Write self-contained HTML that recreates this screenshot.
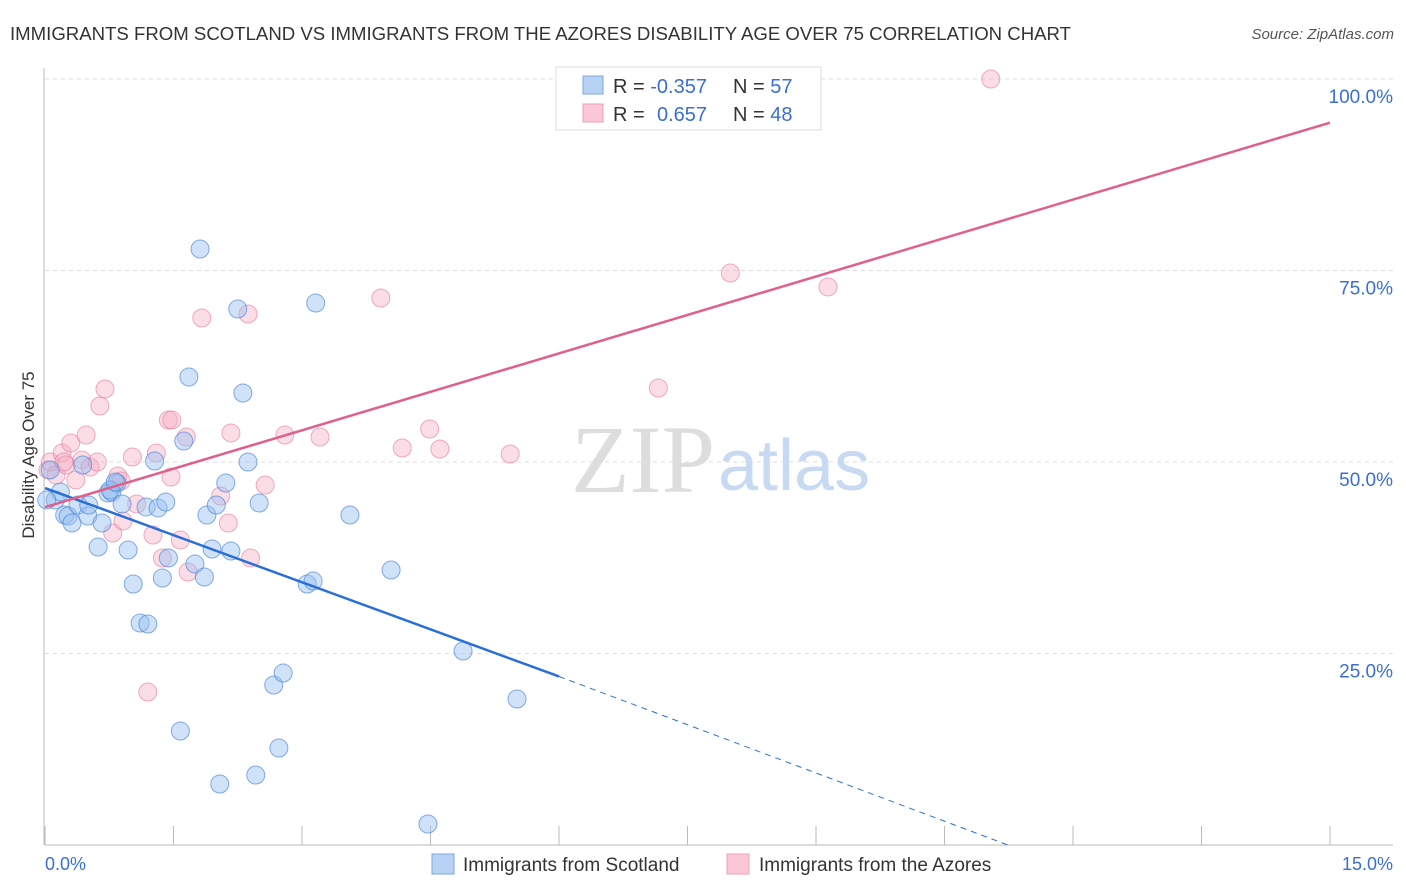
<!DOCTYPE html>
<html><head><meta charset="utf-8"><style>
body{margin:0;background:#fff;font-family:"Liberation Sans",sans-serif}
svg{display:block}
</style></head><body>
<svg id="chart" width="1406" height="892">
<text x="10" y="40" font-size="18" fill="#333" textLength="1061" lengthAdjust="spacingAndGlyphs">IMMIGRANTS FROM SCOTLAND VS IMMIGRANTS FROM THE AZORES DISABILITY AGE OVER 75 CORRELATION CHART</text>
<text x="1394" y="39" font-size="15" fill="#555" text-anchor="end" font-style="italic">Source: ZipAtlas.com</text>
<text transform="translate(34,455) rotate(-90)" font-size="17" fill="#333" text-anchor="middle">Disability Age Over 75</text>
<g id="grid"></g>
<text x="715" y="492" font-size="96" font-family="Liberation Serif,serif" fill="#ddd" text-anchor="end">ZIP</text>
<text x="718" y="490" font-size="72" fill="#c8daf2">atlas</text>
<g id="marks"></g>
<g id="legend">
<rect x="556" y="67" width="265" height="63" fill="#fff" stroke="#ddd"/>
<rect x="583" y="76" width="20" height="18" fill="#b8d2f4" stroke="#7aa6e0"/>
<rect x="583" y="104" width="20" height="18" fill="#fbc7d6" stroke="#eda0b7"/>
<text x="613" y="93" font-size="20" fill="#333">R = <tspan fill="#3a6fd0">-0.357</tspan><tspan x="733">N = </tspan><tspan fill="#3a6fd0">57</tspan></text>
<text x="613" y="121" font-size="20" fill="#333">R = <tspan x="657" fill="#3a6fd0">0.657</tspan><tspan x="733">N = </tspan><tspan fill="#3a6fd0">48</tspan></text>
</g>
<g>
<rect x="432" y="854" width="22" height="20" fill="#b8d2f4" stroke="#7aa6e0"/>
<text x="463" y="871" font-size="19" fill="#333">Immigrants from Scotland</text>
<rect x="727" y="854" width="22" height="20" fill="#fbc7d6" stroke="#eda0b7"/>
<text x="759" y="871" font-size="19" fill="#333">Immigrants from the Azores</text>
</g>
</svg>
<script>
const xTicks=[0,1.5,3,4.5,6,7.5,9,10.5,12,13.5,15];
const yTicks=[25,50,75,100];
const yTickLabels=["25.0%","50.0%","75.0%","100.0%"];
const xEndLabels=["0.0%","15.0%"];
const scotX=[0.06,0.12,0.18,0.23,0.27,0.315,0.385,0.44,0.5,0.51,0.62,0.665,0.735,0.78,0.84,0.9,0.97,1.03,1.11,1.2,1.18,1.28,1.32,1.37,1.41,1.44,1.58,1.62,1.68,1.75,1.81,1.86,1.89,1.95,2.0,2.04,2.11,2.17,2.25,2.31,2.37,2.46,2.5,2.67,2.73,2.78,3.06,3.13,3.16,3.56,4.04,4.47,4.88,5.51,0.02,0.76,0.82];
const scotY=[48.96,45.04,46.08,43.08,42.95,42.04,44.39,49.61,42.95,44.39,38.9,42.04,45.95,46.08,47.26,44.52,38.51,34.07,28.98,28.85,44.13,50.13,44,34.86,44.78,37.47,14.88,52.74,61.1,36.68,77.81,34.99,43.08,38.64,44.39,7.96,47.26,38.38,69.97,59.01,50,9.14,44.65,20.89,12.66,22.45,34.07,34.46,70.76,43.08,35.9,2.74,25.33,19.06,45.04,46.34,47.39];
const azoX=[0.035,0.06,0.13,0.2,0.245,0.3,0.36,0.43,0.48,0.525,0.61,0.64,0.7,0.79,0.85,0.89,0.91,1.02,1.07,1.26,1.3,1.37,1.44,1.48,1.47,1.58,1.65,1.67,1.83,2.05,2.14,2.17,2.37,2.4,2.57,2.8,3.21,3.92,4.17,4.49,4.61,5.43,7.16,8,9.14,11.04,1.2,0.22];
const azoY=[48.96,50,48.3,51.17,49.61,52.48,47.65,50.26,53.52,49.35,50,57.31,59.53,40.73,48.17,47.52,42.3,50.65,44.52,40.47,51.17,37.47,55.48,55.48,48.04,39.82,53.26,35.64,68.8,45.56,42.04,53.79,69.32,37.47,47,53.52,53.26,71.41,51.83,54.31,51.7,51.04,59.66,74.67,72.85,100,19.97,50];
const scotTrendX=[0,6,11.24];
const scotTrendY=[46.6,22.0,0];
const azoTrendX=[0,15];
const azoTrendY=[44.1,94.3];

const NS="http://www.w3.org/2000/svg";
const X=v=>45+v*(1285/15);
const Y=v=>845-v*7.66;
function mk(t,a,p){const e=document.createElementNS(NS,t);for(const k in a)e.setAttribute(k,a[k]);p.appendChild(e);return e;}
const grid=document.getElementById('grid'),marks=document.getElementById('marks');
yTicks.forEach((t,i)=>{
 const l=mk('line',{x1:45,x2:1393,y1:Y(t),y2:Y(t),stroke:'#ddd','stroke-dasharray':'4,4'},grid);
 
 
 const tx=mk('text',{x:1393,y:Y(t)+24,'font-size':19,fill:'#3a6fd0','text-anchor':'end'},grid);
 tx.textContent=yTickLabels[i];
 
 
});
const ax=mk('line',{x1:45,x2:1393,y1:845,y2:845,stroke:'#bbb'},grid);


const ay=mk('line',{x1:44,x2:44,y1:68,y2:845,stroke:'#bbb'},grid);


xTicks.forEach(t=>{
 const l=mk('line',{x1:X(t),x2:X(t),y1:826,y2:845,stroke:'#bbb'},grid);
 
 
});
const xl0=mk('text',{x:45,y:870,'font-size':18,fill:'#3a6fd0'},grid);xl0.textContent=xEndLabels[0];


const xl1=mk('text',{x:1393,y:870,'font-size':18,fill:'#3a6fd0','text-anchor':'end'},grid);xl1.textContent=xEndLabels[1];


azoX.forEach((v,i)=>{
 const c=mk('circle',{cx:X(v),cy:Y(azoY[i]),r:9,fill:'rgba(246,170,192,0.4)',stroke:'rgba(230,120,155,0.6)'},marks);
 
 
});
scotX.forEach((v,i)=>{
 const c=mk('circle',{cx:X(v),cy:Y(scotY[i]),r:9,fill:'rgba(150,190,240,0.45)',stroke:'rgba(70,130,215,0.65)'},marks);
 
 
});
const bl=mk('line',{x1:X(scotTrendX[0]),y1:Y(scotTrendY[0]),x2:X(scotTrendX[1]),y2:Y(scotTrendY[1]),stroke:'#2a6fd8','stroke-width':2.5},marks);


const bd=mk('line',{x1:X(scotTrendX[1]),y1:Y(scotTrendY[1]),x2:X(scotTrendX[2]),y2:Y(scotTrendY[2]),stroke:'#2a6fd8','stroke-width':1,'stroke-dasharray':'6,5'},marks);


const pl=mk('line',{x1:X(azoTrendX[0]),y1:Y(azoTrendY[0]),x2:X(azoTrendX[1]),y2:Y(azoTrendY[1]),stroke:'#e0608c','stroke-width':2.5},marks);


</script>
</body></html>
